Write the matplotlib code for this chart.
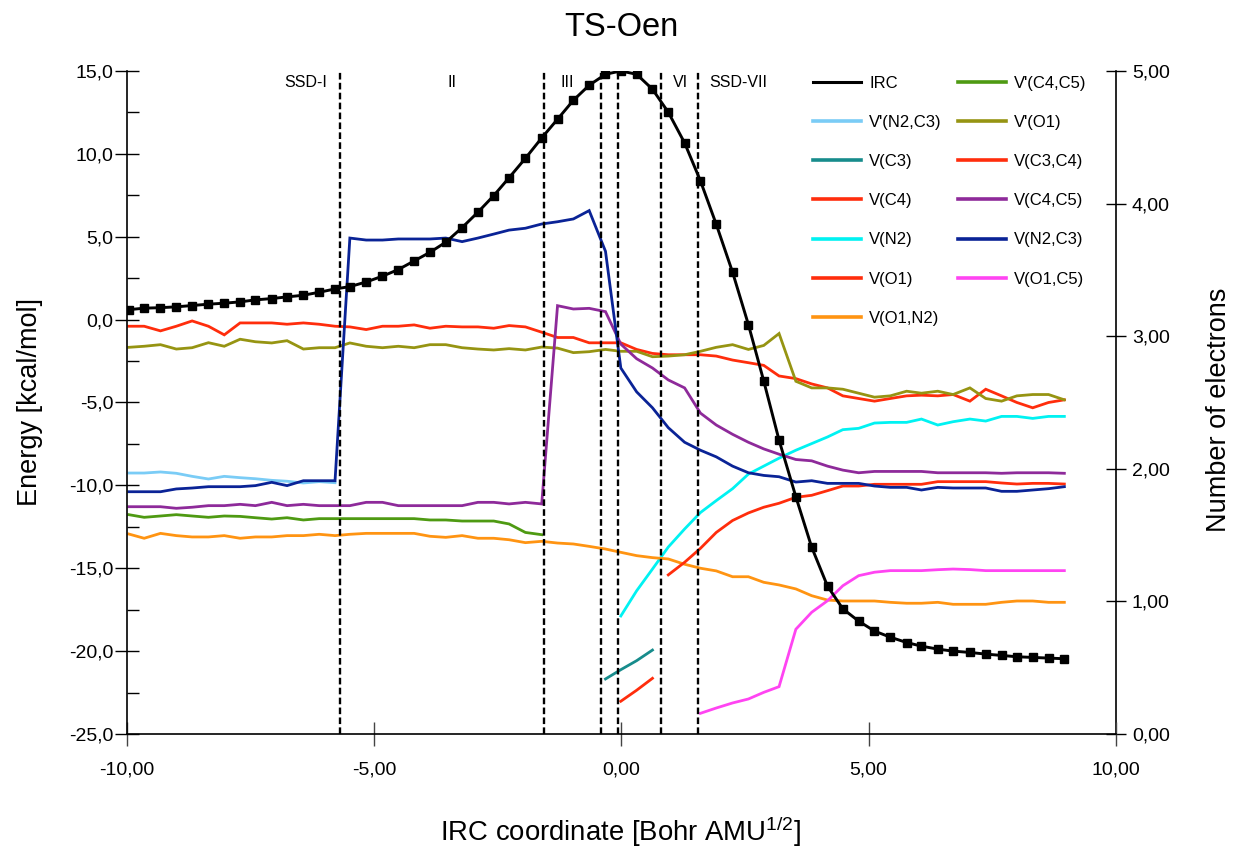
import numpy as np
import matplotlib
matplotlib.use("Agg")
import matplotlib.pyplot as plt
from matplotlib.lines import Line2D
from matplotlib.ticker import FuncFormatter, MultipleLocator

plt.rcParams['font.family'] = ['Liberation Sans', 'DejaVu Sans']
plt.rcParams['mathtext.fontset'] = 'custom'
plt.rcParams['mathtext.rm'] = 'Liberation Sans'
plt.rcParams['mathtext.it'] = 'Liberation Sans'

# ---------------- data ----------------
irc_x = [-9.96, -9.65, -9.32, -9.00, -8.68, -8.35, -8.03, -7.71, -7.40, -7.07,
         -6.76, -6.43, -6.11, -5.79, -5.49, -5.16, -4.83, -4.51, -4.19, -3.87,
         -3.55, -3.22, -2.90, -2.58, -2.27, -1.94, -1.61, -1.29, -0.97, -0.65,
         -0.32, -0.01, 0.31, 0.63, 0.95, 1.28, 1.60, 1.92, 2.25, 2.57,
         2.88, 3.19, 3.53, 3.85, 4.17, 4.48, 4.80, 5.12, 5.44, 5.77,
         6.07, 6.40, 6.71, 7.05, 7.37, 7.69, 8.00, 8.32, 8.64, 8.96]

irc_energy = [0.60, 0.69, 0.72, 0.77, 0.85, 0.93, 0.99, 1.07, 1.19, 1.27,
              1.37, 1.47, 1.65, 1.85, 1.99, 2.27, 2.62, 3.02, 3.54, 4.06,
              4.67, 5.55, 6.48, 7.48, 8.56, 9.73, 10.96, 12.09, 13.23, 14.14,
              14.80, 15.00, 14.80, 13.90, 12.51, 10.66, 8.37, 5.75, 2.86, -0.30,
              -3.70, -7.27, -10.69, -13.73, -16.08, -17.45, -18.19, -18.79, -19.16, -19.48,
              -19.70, -19.88, -20.00, -20.08, -20.18, -20.26, -20.34, -20.38, -20.42, -20.46]

v_n2c3_prime = [1.968, 1.968, 1.976, 1.966, 1.943, 1.923, 1.943, 1.933, 1.925, 1.913,
                1.906, 1.893, 1.903, 1.895]

v_c3 = [0.415, 0.485, 0.553, 0.633]
v_c4 = [0.247, 0.33, 0.42]

v_n2 = [0.89, 1.08, 1.244, 1.41, 1.546, 1.67, 1.76, 1.85, 1.96, 2.02,
        2.08, 2.14, 2.19, 2.24, 2.295, 2.305, 2.345, 2.35, 2.35, 2.375,
        2.33, 2.355, 2.375, 2.36, 2.395, 2.395, 2.38, 2.395, 2.395]

v_o1 = [3.075, 3.075, 3.04, 3.075, 3.115, 3.075, 3.01, 3.10, 3.10, 3.10,
        3.09, 3.10, 3.09, 3.075, 3.07, 3.05, 3.075, 3.075, 3.085, 3.06,
        3.075, 3.07, 3.07, 3.06, 3.08, 3.07, 3.03, 2.99, 2.99, 2.95,
        2.95, 2.95, 2.90, 2.87, 2.86, 2.86, 2.86, 2.85, 2.82, 2.80,
        2.78, 2.70, 2.68, 2.64, 2.61, 2.55, 2.53, 2.51, 2.53, 2.55,
        2.555, 2.55, 2.56, 2.51, 2.60, 2.55, 2.50, 2.46, 2.50, 2.52]

v_o1n2 = [1.508, 1.476, 1.513, 1.496, 1.486, 1.486, 1.496, 1.476, 1.486, 1.486,
          1.496, 1.496, 1.506, 1.496, 1.506, 1.513, 1.513, 1.513, 1.513, 1.491,
          1.483, 1.496, 1.476, 1.476, 1.465, 1.443, 1.453, 1.44, 1.433, 1.415,
          1.395, 1.37, 1.345, 1.33, 1.32, 1.28, 1.25, 1.23, 1.186, 1.186,
          1.144, 1.124, 1.094, 1.043, 1.01, 1.003, 1.003, 1.003, 0.993, 0.986,
          0.986, 0.993, 0.978, 0.978, 0.978, 0.993, 1.003, 1.003, 0.993, 0.993]

v_c4c5_prime = [1.654, 1.634, 1.644, 1.654, 1.644, 1.634, 1.644, 1.641, 1.631, 1.621,
                1.631, 1.614, 1.624, 1.624, 1.624, 1.624, 1.624, 1.624, 1.624, 1.614,
                1.614, 1.606, 1.606, 1.606, 1.584, 1.52, 1.503]

v_o1_prime = [2.916, 2.924, 2.936, 2.903, 2.913, 2.951, 2.924, 2.977, 2.958, 2.949,
              2.966, 2.903, 2.913, 2.913, 2.949, 2.924, 2.913, 2.924, 2.913, 2.936,
              2.936, 2.913, 2.903, 2.896, 2.906, 2.896, 2.918, 2.91, 2.876, 2.883,
              2.90, 2.886, 2.886, 2.845, 2.85, 2.86, 2.886, 2.916, 2.936, 2.90,
              2.93, 3.02, 2.66, 2.61, 2.61, 2.60, 2.57, 2.54, 2.55, 2.585,
              2.57, 2.585, 2.56, 2.61, 2.53, 2.51, 2.55, 2.56, 2.56, 2.52]

v_c3c4 = [1.20, 1.295, 1.40, 1.52, 1.61, 1.667, 1.71, 1.74, 1.785, 1.80,
          1.835, 1.87, 1.87, 1.883, 1.883, 1.883, 1.883, 1.903, 1.903, 1.903,
          1.903, 1.893, 1.885, 1.89, 1.89, 1.885]

v_c4c5 = [1.714, 1.714, 1.714, 1.702, 1.71, 1.722, 1.722, 1.732, 1.722, 1.747,
          1.722, 1.732, 1.722, 1.722, 1.722, 1.747, 1.747, 1.722, 1.722, 1.722,
          1.722, 1.722, 1.747, 1.747, 1.735, 1.747, 1.735, 3.23, 3.205, 3.21,
          3.185, 2.94, 2.83, 2.76, 2.67, 2.61, 2.42, 2.33, 2.26, 2.20,
          2.15, 2.11, 2.07, 2.06, 2.02, 1.99, 1.97, 1.98, 1.98, 1.98,
          1.98, 1.97, 1.97, 1.97, 1.97, 1.966, 1.97, 1.97, 1.97, 1.966]

v_n2c3 = [1.827, 1.827, 1.827, 1.848, 1.855, 1.865, 1.865, 1.865, 1.873, 1.898,
          1.873, 1.91, 1.91, 1.91, 3.74, 3.725, 3.725, 3.733, 3.733, 3.733,
          3.74, 3.713, 3.74, 3.77, 3.80, 3.814, 3.846, 3.863, 3.884, 3.947,
          3.64, 2.76, 2.58, 2.46, 2.31, 2.20, 2.14, 2.09, 2.02, 1.97,
          1.95, 1.94, 1.90, 1.91, 1.89, 1.89, 1.89, 1.87, 1.86, 1.86,
          1.84, 1.86, 1.855, 1.855, 1.855, 1.83, 1.83, 1.84, 1.85, 1.865]

v_o1c5 = [0.156, 0.196, 0.234, 0.264, 0.314, 0.357, 0.79, 0.918, 1.005, 1.118,
          1.194, 1.22, 1.232, 1.232, 1.232, 1.239, 1.244, 1.24, 1.232, 1.232,
          1.232, 1.232, 1.232, 1.232]

region_bounds = [-5.68, -1.57, -0.42, -0.07, 0.81, 1.55]
region_labels = ["SSD-I", "II", "III", "VI", "SSD-VII"]
region_label_x = [-6.38, -3.43, -1.10, 1.19, 2.36]

energy_ticks = [-25, -20, -15, -10, -5, 0, 5, 10, 15]
electron_ticks = [0, 1, 2, 3, 4, 5]
x_ticks = [-10, -5, 0, 5, 10]

# ---------------- series definitions ----------------
x = irc_x
series = [
    # label, x, y, color
    ("V'(N2,C3)", x[0:14], v_n2c3_prime, '#7ACCF6'),
    ("V(C3)", x[30:34], v_c3, '#178C8C'),
    ("V(C4)", x[31:34], v_c4, '#FF2D0C'),
    ("V(N2)", x[31:60], v_n2, '#00F2F2'),
    ("V(O1)", x, v_o1, '#FF2D0C'),
    ("V(O1,N2)", x, v_o1n2, '#FF9412'),
    ("V'(C4,C5)", x[0:27], v_c4c5_prime, '#4E9A12'),
    ("V'(O1)", x, v_o1_prime, '#969412'),
    ("V(C3,C4)", x[34:60], v_c3c4, '#FF2D0C'),
    ("V(C4,C5)", x, v_c4c5, '#8E2A9A'),
    ("V(N2,C3)", x, v_n2c3, '#0A2396'),
    ("V(O1,C5)", x[36:60], v_o1c5, '#FF44F2'),
]

fig = plt.figure(figsize=(12.34, 8.52), dpi=100)
ax = fig.add_axes([0.1028, 0.1385, 0.8014, 0.7782])
ax2 = ax.twinx()
ax.set_zorder(ax2.get_zorder() + 1)
ax.patch.set_visible(False)

lw = 2.0
for lab, xs, ys, col in series:
    ax2.plot(xs, ys, color=col, lw=lw, solid_joinstyle='miter')

ax.plot(irc_x, irc_energy, color='black', lw=2.1, marker='s', markersize=5.2,
        markerfacecolor='black', markeredgecolor='black', zorder=5)

for xb in region_bounds:
    ax.axvline(xb, color='black', lw=1.7, dashes=(2.8, 1.4), zorder=4)
for xl, tl in zip(region_label_x, region_labels):
    ax.text(xl, 14.3, tl, ha='center', va='center', fontsize=11.5)

ax.set_xlim(-10, 10)
ax.set_ylim(-25, 15)
ax2.set_ylim(0, 5)

ax.set_xticks(x_ticks)
ax.set_yticks(energy_ticks)
ax.yaxis.set_minor_locator(MultipleLocator(2.5))
ax2.set_yticks(electron_ticks)

ax.xaxis.set_major_formatter(FuncFormatter(lambda v, p: ('%.2f' % v).replace('.', ',')))
ax.yaxis.set_major_formatter(FuncFormatter(lambda v, p: ('%.1f' % v).replace('.', ',')))
ax2.yaxis.set_major_formatter(FuncFormatter(lambda v, p: ('%.2f' % v).replace('.', ',')))

ax.tick_params(axis='y', which='major', direction='inout', length=17, width=1.0,
               labelsize=14, pad=1)
ax.tick_params(axis='y', which='minor', direction='in', length=8.5, width=1.0)
ax.tick_params(axis='x', which='major', direction='inout', length=17, width=1.0,
               labelsize=14, pad=11, color='#444444')
ax2.tick_params(axis='y', which='major', direction='inout', length=15, width=1.0,
                labelsize=14, pad=4)

for a in (ax, ax2):
    a.spines['top'].set_visible(False)
    for s in ('left', 'right', 'bottom'):
        a.spines[s].set_linewidth(1.2)
ax.spines['right'].set_visible(False)
ax2.spines['left'].set_visible(False)
ax2.spines['bottom'].set_visible(False)

fig.text(30 / 1234, 1 - 402 / 852, 'Energy [kcal/mol]', rotation=90,
         ha='center', va='center', fontsize=19.5)
fig.text(1219 / 1234, 1 - 410 / 852, 'Number of electrons', rotation=90,
         ha='center', va='center', fontsize=19.5)
fig.text(621 / 1234, 1 - 832 / 852, 'IRC coordinate [Bohr AMU$^{\\mathregular{1/2}}$]',
         ha='center', va='center', fontsize=19.8)
fig.text(0.5035, 1 - 28 / 852, 'TS-Oen', ha='center', va='center', fontsize=23.5)

# legend
handles = [Line2D([0], [0], color='black', lw=2.2)]
labels = ['IRC']
for lab, xs, ys, col in series:
    handles.append(Line2D([0], [0], color=col, lw=2.6))
    labels.append(lab)
leg = fig.legend(handles, labels, loc='upper left', bbox_to_anchor=(0.659, 0.911),
                 ncol=2, frameon=False, fontsize=12, handlelength=2.85,
                 handletextpad=0.5, columnspacing=1.0, labelspacing=1.45,
                 borderaxespad=0, borderpad=0)

fig.savefig('out.png', dpi=100)
